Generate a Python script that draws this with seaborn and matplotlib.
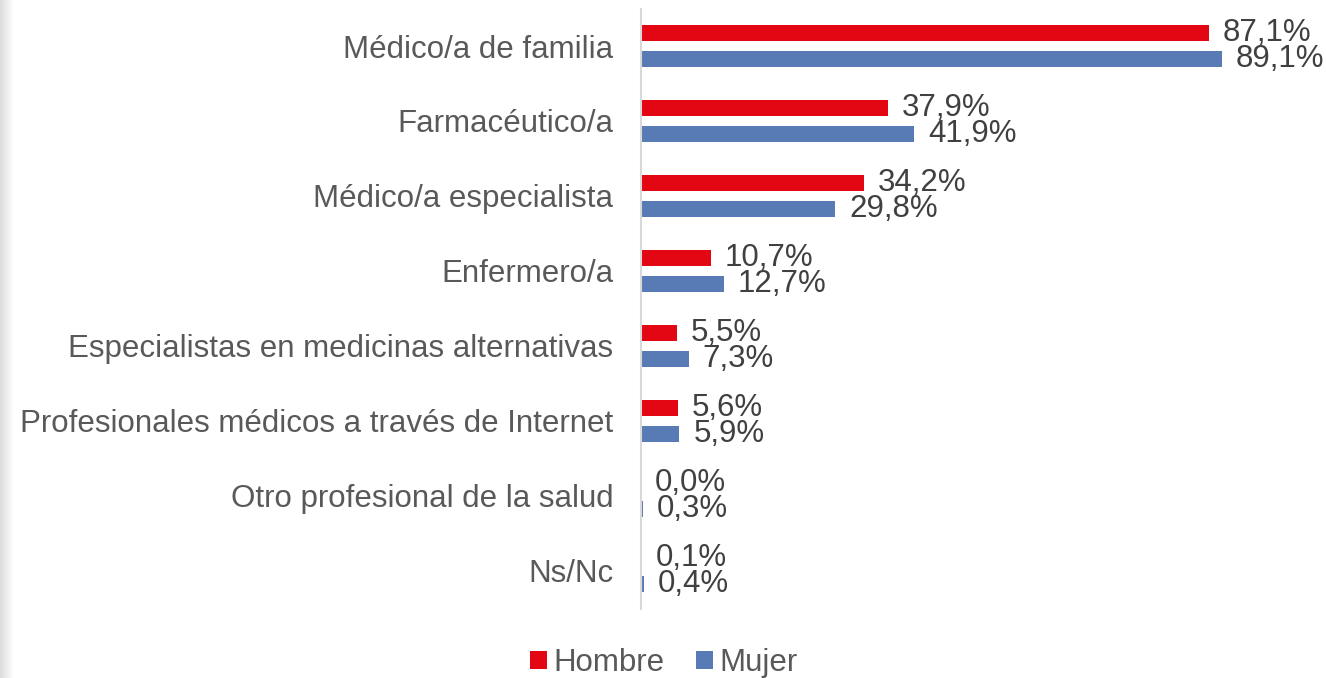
import numpy as np
import pandas as pd
import matplotlib
matplotlib.use("Agg")
import matplotlib.pyplot as plt
from matplotlib.patches import Patch
import seaborn as sns

categorias = [
    "Médico/a de familia",
    "Farmacéutico/a",
    "Médico/a especialista",
    "Enfermero/a",
    "Especialistas en medicinas alternativas",
    "Profesionales médicos a través de Internet",
    "Otro profesional de la salud",
    "Ns/Nc",
]
hombre = [87.1, 37.9, 34.2, 10.7, 5.5, 5.6, 0.0, 0.1]
mujer = [89.1, 41.9, 29.8, 12.7, 7.3, 5.9, 0.3, 0.4]
series = ["Hombre", "Mujer"]
colores = {"Hombre": "#E30613", "Mujer": "#587BB5"}

df = pd.DataFrame({
    "categoria": categorias * 2,
    "serie": ["Hombre"] * len(categorias) + ["Mujer"] * len(categorias),
    "valor": hombre + mujer,
})

sns.set_style("white")
plt.rcParams["font.family"] = ["Liberation Sans", "DejaVu Sans"]

W, H = 1326, 678
fig = plt.figure(figsize=(W / 100, H / 100), dpi=100)

# faint grey shading at the left edge, as in the original slide
bg = fig.add_axes([0, 0, 14 / W, 1])
grad = np.linspace(0.86, 1.0, 64).reshape(1, -1)
bg.imshow(grad, aspect="auto", cmap="gray", vmin=0, vmax=1, extent=[0, 1, 0, 1])
bg.axis("off")

ax = fig.add_axes([641 / W, 69.5 / H, 652 / W, 600 / H])
sns.barplot(data=df, y="categoria", x="valor", hue="serie", hue_order=series,
            palette=colores, order=categorias, orient="y", width=0.693,
            gap=0.35, saturation=1, linewidth=0, legend=False, ax=ax)

ax.set_xlim(0, 100)
ax.set_ylim(7.5, -0.5)
ax.set_xlabel("")
ax.set_ylabel("")
ax.set_xticks([])
ax.tick_params(axis="y", length=0, pad=20, labelsize=22.5, labelcolor="#595959")
for s in ["top", "right", "bottom"]:
    ax.spines[s].set_visible(False)
ax.spines["left"].set_color("#D9D9D9")
ax.spines["left"].set_linewidth(1.5)

for cont, vals in zip(ax.containers, [hombre, mujer]):
    etiquetas = [f"{v:.1f}%".replace(".", ",") for v in vals]
    ax.bar_label(cont, labels=etiquetas, padding=10, fontsize=22.5,
                 color="#404040", clip_on=False)

handles = [Patch(facecolor=colores[s], edgecolor="none", label=s) for s in series]
fig.legend(handles=handles, loc="center", bbox_to_anchor=(664 / W, 1 - 663 / H),
           ncol=2, frameon=False, fontsize=22.5, handlelength=0.55,
           handleheight=0.5, handletextpad=0.2, columnspacing=1.0,
           labelcolor="#595959")

fig.savefig("out.png", dpi=100)
